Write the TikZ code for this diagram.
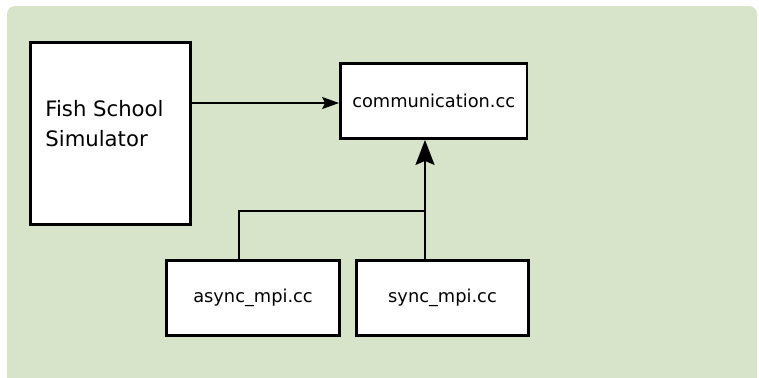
\documentclass[tikz,border=0pt]{standalone}
\usepackage{fontspec}
\setmainfont{DejaVu Sans}
\usetikzlibrary{arrows.meta}
\definecolor{panelgreen}{RGB}{216,228,201}

\begin{document}
\begin{tikzpicture}[x=0.5pt,y=-0.5pt,
  box/.style={draw=black, fill=white, line width=1.5pt, minimum height=37.5pt,
    inner sep=0pt, font=\fontsize{8.9}{11}\selectfont},
  link/.style={line width=0.8pt}]
  \useasboundingbox (0,0) rectangle (759,377);
  \fill [panelgreen, rounded corners=4pt] (7,6) rectangle (757,395);

  \node [box, line width=1.75pt, minimum width=80pt, minimum height=91pt] (fish) at (110.5,133.5) {};
  \node [anchor=west, align=left, inner sep=0pt, font=\fontsize{10.6}{15}\selectfont] (fishtext) at (45,123.5) {Fish School\\Simulator};
  \node [box, line width=1.4pt, minimum width=93.25pt] (comm) at (433.75,101) {communication.cc};
  \node [box, minimum width=86.5pt] (async) at (253,298) {async\_mpi.cc};
  \node [box, minimum width=86pt] (sync) at (442.5,298) {sync\_mpi.cc};

  \coordinate (commin) at ([yshift=-1pt]comm.west);
  \coordinate (tap) at (425,211);
  \draw [link, -{Stealth[length=8.5pt, width=6pt, inset=1.5pt]}] (fish.east |- commin) -- (commin);
  \draw [link] ([xshift=-7.15pt]async.north) |- (tap) -- (tap |- sync.north);
  \draw [link, line width=1.1pt, -{Stealth[length=12.5pt, width=9.5pt, inset=2pt]}] (tap) -- (tap |- comm.south);
\end{tikzpicture}
\end{document}
